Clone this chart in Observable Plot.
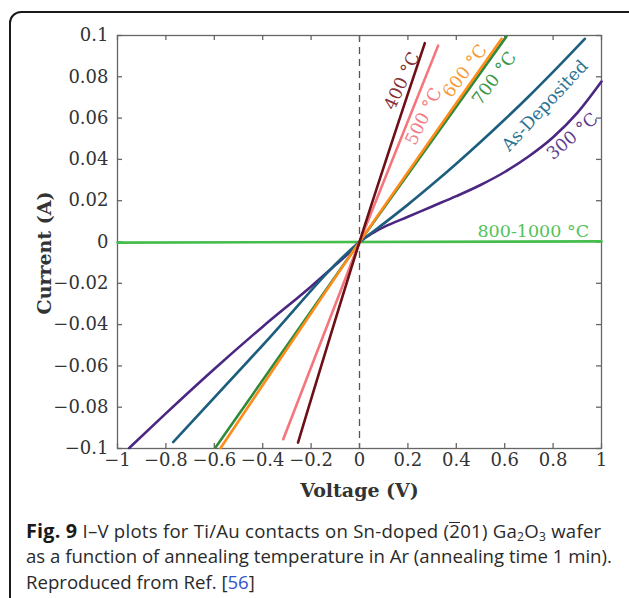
<!DOCTYPE html>
<html>
<head>
<meta charset="utf-8">
<script src="https://cdn.jsdelivr.net/npm/d3@7"></script>
<script src="https://cdn.jsdelivr.net/npm/@observablehq/plot@0.6"></script>
<style>
  html, body { margin: 0; padding: 0; background: #fff; }
  #wrap { position: relative; width: 629px; height: 598px; overflow: hidden; }
  #box { position: absolute; left: 9px; top: 11px; width: 640px; height: 600px; border: 2px solid #1a1a1a; border-radius: 12px; box-sizing: border-box; }
  #chart { position: absolute; left: 0; top: 0; }
  #caption { position: absolute; left: 26px; top: 517.5px; font-family: "Open Sans", sans-serif; font-size: 18.6px; line-height: 25.5px; color: #2a2a2a; white-space: nowrap; }
  #caption b { font-weight: 700; color: #1a1a1a; font-size: 19.8px; letter-spacing: 0.2px; }
  #caption .l1 { letter-spacing: 0.25px; }
  #caption sub { font-size: 12px; line-height: 0; vertical-align: -0.25em; }
  #caption .bar { display: inline-block; line-height: 0.85; border-top: 1.2px solid #2a2a2a; }
  #caption .ref { color: #3355cc; }
</style>
</head>
<body>
<div id="wrap">
  <div id="box"></div>
  <div id="chart"></div>
  <div id="caption"><span class="l1"><b>Fig. 9</b> I–V plots for Ti/Au contacts on Sn-doped (<span class="bar">2</span>01) Ga<sub>2</sub>O<sub>3</sub> wafer</span><br>as a function of annealing temperature in Ar (annealing time 1 min).<br>Reproduced from Ref. [<span class="ref">56</span>]</div>
</div>
<script>
// ---- Data ----
const xTicks = [-1, -0.8, -0.6, -0.4, -0.2, 0, 0.2, 0.4, 0.6, 0.8, 1];
const xTickLabels = ["−1", "−0.8", "−0.6", "−0.4", "−0.2", "0", "0.2", "0.4", "0.6", "0.8", "1"];
const yTicks = [-0.1, -0.08, -0.06, -0.04, -0.02, 0, 0.02, 0.04, 0.06, 0.08, 0.1];
const yTickLabels = ["−0.1", "−0.08", "−0.06", "−0.04", "−0.02", "0", "0.02", "0.04", "0.06", "0.08", "0.1"];
const xLabel = "Voltage (V)";
const yLabel = "Current (A)";

// As-Deposited
const vAs = [-0.770, -0.4, 0, 0.1, 0.2, 0.3, 0.4, 0.5, 0.6, 0.7, 0.8, 0.931];
const iAs = [-0.0969, -0.0500, 0, 0.0089, 0.0181, 0.0278, 0.0379, 0.0484, 0.0593, 0.0706, 0.0824, 0.0984];
// 300 °C
const v300 = [-0.952, -0.8, -0.6, -0.4, -0.2, -0.1, -0.05, 0, 0.05, 0.1, 0.2, 0.3, 0.4, 0.5, 0.6, 0.7, 0.8, 0.9, 1.0];
const i300 = [-0.0998, -0.0830, -0.0615, -0.0410, -0.0215, -0.0112, -0.0060, 0, 0.0040, 0.0072, 0.0122, 0.0172, 0.0222, 0.0276, 0.0339, 0.0415, 0.0507, 0.0625, 0.0777];
// 400 °C
const v400 = [-0.254, 0, 0.27];
const i400 = [-0.0971, 0, 0.0963];
// 500 °C
const v500 = [-0.315, 0, 0.325];
const i500 = [-0.0955, 0, 0.0951];
// 600 °C
const v600 = [-0.574, 0, 0.587];
const i600 = [-0.0998, 0, 0.0984];
// 700 °C
const v700 = [-0.595, 0, 0.607];
const i700 = [-0.0995, 0, 0.0995];
// 800-1000 °C
const v800 = [-1, 1];
const i800 = [-0.0003, 0.0003];

const seriesNames = ["800-1000 °C", "300 °C", "As-Deposited", "700 °C", "600 °C", "500 °C", "400 °C"];
const seriesColors = ["#45bd4c", "#4b2782", "#1d5e7e", "#2f8a3a", "#ff8c1a", "#f4767c", "#6e0f16"];
const labelColors  = ["#52c25a", "#5e3d92", "#2c7393", "#3b974a", "#f99a35", "#f27d85", "#843036"];
const seriesV = [v800, v300, vAs, v700, v600, v500, v400];
const seriesI = [i800, i300, iAs, i700, i600, i500, i400];

// label anchor points (data coords) and rotation angles
const labelV = [0.718, 0.880, 0.766, 0.557, 0.436, 0.265, 0.176];
const labelI = [0.0052, 0.0512, 0.0660, 0.0792, 0.0828, 0.0608, 0.0780];
const labelAngle = [0, -41, -47, -53, -53, -64, -65];

// ---- Build ----
const W = 629, H = 510, mL = 117, mR = 28, mT = 35, mB = 62;
const fw = W - mL - mR, fh = H - mT - mB;
const tickLen = 5;
const frameColor = "#666";

const series = seriesNames.map((name, k) => ({
  name, color: seriesColors[k], labelColor: labelColors[k],
  pts: seriesV[k].map((v, j) => ({V: v, I: seriesI[k][j]})),
  lv: labelV[k], li: labelI[k], angle: labelAngle[k]
}));

const marks = [
  Plot.ruleX([0], {stroke: "#555", strokeWidth: 1.3, strokeDasharray: "7,5"}),
  Plot.frame({stroke: frameColor, strokeWidth: 1.3}),
  Plot.tickX(xTicks, {x: d => d, insetTop: fh - tickLen, stroke: frameColor, strokeWidth: 1.3}),
  Plot.tickX(xTicks, {x: d => d, insetBottom: fh - tickLen, stroke: frameColor, strokeWidth: 1.3}),
  Plot.tickY(yTicks, {y: d => d, insetRight: fw - tickLen, stroke: frameColor, strokeWidth: 1.3}),
  Plot.tickY(yTicks, {y: d => d, insetLeft: fw - tickLen, stroke: frameColor, strokeWidth: 1.3}),
  Plot.axisX(xTicks, {label: null, tickSize: 0, tickPadding: 5, tickFormat: d => xTickLabels[xTicks.indexOf(d)], fill: "#333", fontSize: 18}),
  Plot.axisY(yTicks, {label: null, tickSize: 0, tickPadding: 9, tickFormat: d => yTickLabels[yTicks.indexOf(d)], fill: "#333", fontSize: 18}),
  Plot.text([xLabel], {frameAnchor: "bottom", textAnchor: "middle", lineAnchor: "middle", dy: 42, fontWeight: "bold", fontSize: 19, fill: "#333"}),
  Plot.text([yLabel], {frameAnchor: "left", textAnchor: "middle", lineAnchor: "middle", dx: -73, dy: 11, rotate: -90, fontWeight: "bold", fontSize: 19, fill: "#333"}),
  ...series.map(s => Plot.line(s.pts, {x: "V", y: "I", stroke: s.color, strokeWidth: 2.6, curve: "monotone-x"})),
  ...series.map(s => Plot.text([s.name], {x: () => s.lv, y: () => s.li, text: d => d, rotate: s.angle, fill: s.labelColor, fontSize: 17.5}))
];

const chart = Plot.plot({
  width: W, height: H,
  marginLeft: mL, marginRight: mR, marginTop: mT, marginBottom: mB,
  x: {domain: [-1, 1], axis: null},
  y: {domain: [-0.1, 0.1], axis: null},
  style: {fontFamily: "DejaVu Serif", fontSize: "17px", background: "transparent", overflow: "visible"},
  marks
});
document.getElementById("chart").appendChild(chart);
</script>
</body>
</html>
